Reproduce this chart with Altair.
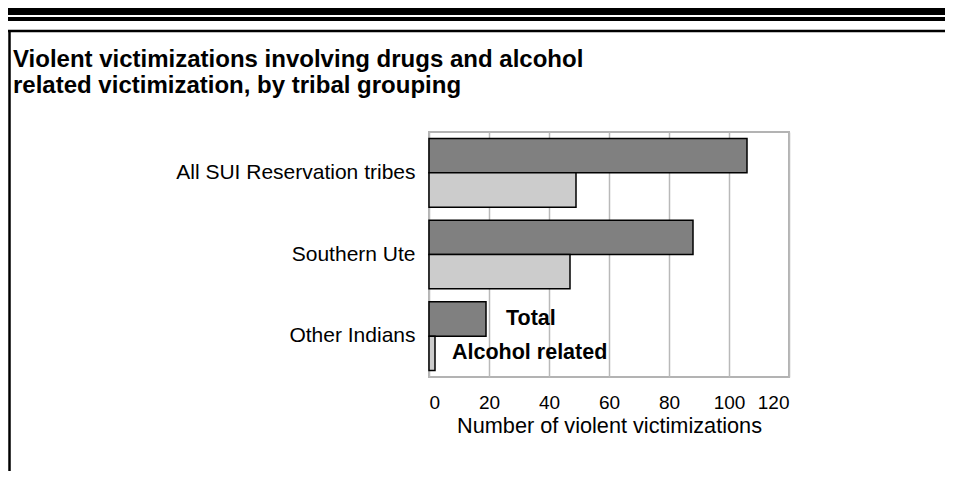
import altair as alt
import pandas as pd

GROUPS = ["All SUI Reservation tribes", "Southern Ute", "Other Indians"]
SERIES = ["Total", "Alcohol related"]
TOTAL = [106, 88, 19]
ALCOHOL = [49, 47, 2]
X_TICKS = [0, 20, 40, 60, 80, 100, 120]
TITLE_LINES = ["Violent victimizations involving drugs and alcohol",
               "related victimization, by tribal grouping"]
X_TITLE = "Number of violent victimizations"
COLORS = ["#808080", "#cccccc"]

rows = []
for g, t, a in zip(GROUPS, TOTAL, ALCOHOL):
    rows.append({"group": g, "series": SERIES[0], "value": t})
    rows.append({"group": g, "series": SERIES[1], "value": a})
df = pd.DataFrame(rows)
one = pd.DataFrame({"k": [0]})

FONT = "Liberation Sans"

y_enc = alt.Y("group:N", sort=GROUPS,
              scale=alt.Scale(paddingInner=0.16, paddingOuter=0.08),
              axis=alt.Axis(title=None, domain=False, ticks=False, labelPadding=14,
                            labelFontSize=21, labelColor="black", labelFont=FONT,
                            labelLimit=400))
yoff = alt.YOffset("series:N", sort=SERIES,
                   scale=alt.Scale(paddingInner=0, paddingOuter=0))
x_enc = alt.X("value:Q", scale=alt.Scale(domain=[0, 120], nice=False),
              axis=alt.Axis(values=X_TICKS, grid=True, gridColor="#b9b9b9", gridWidth=1.5,
                            domain=False, ticks=False, labelPadding=16, labelFontSize=19,
                            labelColor="black", labelFont=FONT, title=X_TITLE,
                            titleFontSize=21.7, titleFontWeight="normal", titleFont=FONT,
                            titleColor="black", titlePadding=3))

bars = alt.Chart(df).mark_bar(stroke="black", strokeWidth=1.5).encode(
    x=x_enc, y=y_enc, yOffset=yoff,
    color=alt.Color("series:N", sort=SERIES,
                    scale=alt.Scale(domain=SERIES, range=COLORS), legend=None),
)

def ann(series_name, dx):
    return alt.Chart(df).transform_filter(
        (alt.datum.group == GROUPS[2]) & (alt.datum.series == series_name)
    ).mark_text(align="left", baseline="middle", dx=dx, fontSize=21.5,
                fontWeight="bold", font=FONT, color="black").encode(
        x=x_enc, y=y_enc, yOffset=yoff, text="series:N")

ann_total = ann(SERIES[0], 20)
ann_alc = ann(SERIES[1], 17)

title = alt.Chart(one).mark_text(align="left", baseline="alphabetic", fontSize=24,
                                 fontWeight="bold", font=FONT, color="black",
                                 lineHeight=26).encode(
    x=alt.value(-416), y=alt.value(-65), text=alt.value(TITLE_LINES))

thick = alt.Chart(one).mark_rule(color="black", strokeWidth=11).encode(
    x=alt.value(-430), x2=alt.value(530), y=alt.value(-122.5))
thin = alt.Chart(one).mark_rule(color="black", strokeWidth=4).encode(
    x=alt.value(-430), x2=alt.value(530), y=alt.value(-113))
frame_top = alt.Chart(one).mark_rule(color="black", strokeWidth=2.5).encode(
    x=alt.value(-421), x2=alt.value(530), y=alt.value(-101))
frame_left = alt.Chart(one).mark_rule(color="black", strokeWidth=2.5).encode(
    x=alt.value(-419.5), y=alt.value(-102), y2=alt.value(350))

chart = alt.layer(bars, ann_total, ann_alc, title, thick, thin, frame_top, frame_left).properties(
    width=360, height=245,
    autosize=alt.AutoSizeParams(type="none"),
    padding={"left": 421, "top": 124, "right": 156, "bottom": 94},
    background="white",
).configure_view(stroke="#b3b3b3", strokeWidth=2)

chart.save("out.html", embed_options={"renderer": "svg", "actions": False})
